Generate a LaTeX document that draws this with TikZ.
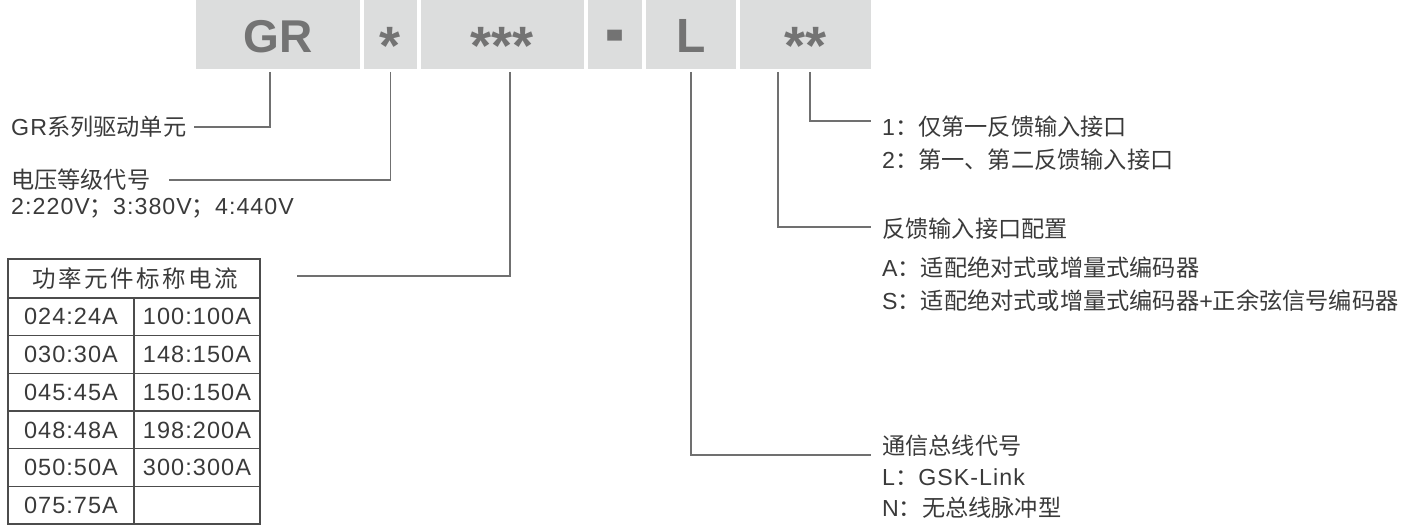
\documentclass[tikz,border=0pt]{standalone}
\usepackage{fontspec}
\setmainfont{Noto Sans CJK SC}
\newfontfamily\segfont{Liberation Sans}
\newfontfamily\lat[LetterSpace=4.5]{Liberation Sans}
\newfontfamily\hdrfont[LetterSpace=10.6]{Noto Sans CJK SC}
\usepackage{tikz}
\usetikzlibrary{positioning,calc}
\definecolor{segfill}{HTML}{DCDDDD}
\definecolor{segtext}{HTML}{737373}
\definecolor{leadgray}{HTML}{707070}
\definecolor{inkgray}{HTML}{3A3A3A}
\tikzset{
  seg/.style={fill=segfill, text=segtext, minimum height=69pt, inner sep=0pt, outer sep=0pt,
    text height=37pt, text depth=0pt, font=\segfont\bfseries\fontsize{46}{46}\selectfont},
  segstar/.style={seg, font=\segfont\bfseries\fontsize{54}{54}\selectfont},
  segbig/.style={seg, font=\segfont\bfseries\fontsize{48}{48}\selectfont},
  note/.style={anchor=west, inner sep=0pt, text=inkgray, font=\fontsize{23.2}{26}\selectfont},
  cell/.style={inner sep=0pt, text=inkgray, font=\lat\fontsize{23.5}{26}\selectfont},
  lead/.style={draw=leadgray, line width=1.2pt},
  grid/.style={draw=black!70, line width=1.3pt},
}

\begin{document}
\begin{tikzpicture}[x=1pt, y=-1pt, node distance=4pt]
\useasboundingbox (0,0) rectangle (1401,527);

% model code
\node (gr)    [seg, minimum width=164pt, anchor=north west] at (196,0) {GR};
\node (star1) [segstar, minimum width=53pt,  right=of gr]    {\raisebox{-12pt}{*}};
\node (star3) [segstar, minimum width=163pt, right=of star1] {\raisebox{-12pt}{***}};
\node (dash)  [seg, minimum width=54pt,  right=of star3] {\raisebox{-7pt}{\scalebox{1.25}[2]{-}}};
\node (lnk)   [segbig, minimum width=90pt,  right=of dash]  {L};
\node (star2) [segstar, minimum width=131pt, right=of lnk]   {\raisebox{-12pt}{**}};

% left notes
\node (grtxt)   [note] at (11,127) {{\lat GR}系列驱动单元};
\node (volt)    [note] at (11,180) {电压等级代号};
\node (voltval) [note] at (11,208) {{\lat 2:220V}；{\lat 3:380V}；{\lat 4:440V}};

% current table
\draw[grid] (8,259) rectangle (260,524);
\draw[grid] (134,298) -- (134,524);
\foreach \k in {0,...,5}
  \draw[grid] (8,{298+37.7*\k}) -- (260,{298+37.7*\k});
\node (hdr) [cell, font=\hdrfont\fontsize{23.5}{26}\selectfont] at (135,278.5) {功率元件标称电流};
\foreach \txt [count=\i] in {024:24A,030:30A,045:45A,048:48A,050:50A,075:75A}
  \node (lc\i) [cell] at (71,{298+37.7*(\i-0.5)}) {\txt};
\foreach \txt [count=\i] in {100:100A,148:150A,150:150A,198:200A,300:300A}
  \node (rc\i) [cell] at (197,{298+37.7*(\i-0.5)}) {\txt};

% right notes
\node (fdb1) [note] at (882,127) {{\lat 1}：仅第一反馈输入接口};
\node (fdb2) [note] at (882,160) {{\lat 2}：第一、第二反馈输入接口};
\node (fb)   [note] at (882,229) {反馈输入接口配置};
\node (fbA)  [note] at (882,268) {{\lat A}：适配绝对式或增量式编码器};
\node (fbS)  [note] at (882,301) {{\lat S}：适配绝对式或增量式编码器{\lat +}正余弦信号编码器};
\node (bus)  [note] at (882,446) {通信总线代号};
\node (busL) [note] at (882,477) {{\lat L}：{\lat GSK-Link}};
\node (busN) [note] at (882,508) {{\lat N}：无总线脉冲型};

% leaders
\coordinate (grtap)  at ($(gr.south west)+(74,3)$);
\coordinate (s1tap)  at ($(star1.south)+(0,3)$);
\coordinate (s3tap)  at ($(star3.south west)+(89,3)$);
\coordinate (ltap)   at ($(lnk.south)+(0,3)$);
\coordinate (s2tapA) at ($(star2.south west)+(38,3)$);
\coordinate (s2tapB) at ($(star2.south west)+(70,3)$);
\coordinate (hdrend) at (297,276);
\draw[lead] (grtap) |- ([xshift=8pt]grtxt.east);
\draw[lead] (s1tap) |- ([xshift=18pt]volt.east);
\draw[lead] (s3tap) |- (hdrend);
\draw[lead] (ltap) |- ([shift={(-11pt,-9pt)}]bus.west);
\draw[lead] (s2tapA) |- ([shift={(-11pt,2pt)}]fb.west);
\draw[lead] (s2tapB) |- ([shift={(-11pt,6pt)}]fdb1.west);
\end{tikzpicture}
\end{document}
